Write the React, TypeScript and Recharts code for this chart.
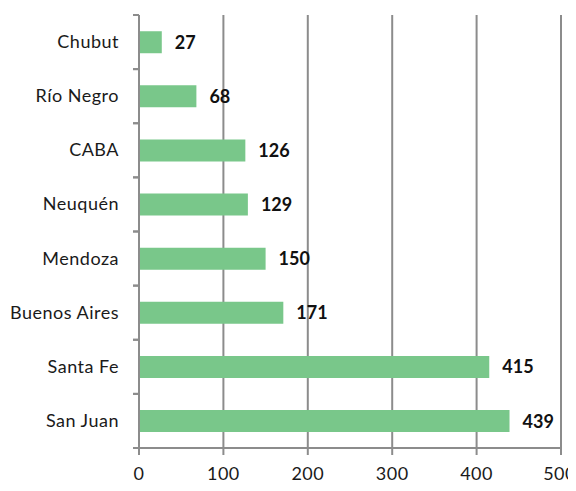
import React from 'react';
import { BarChart, Bar, XAxis, YAxis, CartesianGrid, LabelList } from 'recharts';

const provinces = ['Chubut', 'Río Negro', 'CABA', 'Neuquén', 'Mendoza', 'Buenos Aires', 'Santa Fe', 'San Juan'];
const values = [27, 68, 126, 129, 150, 171, 415, 439];
const xTicks = [0, 100, 200, 300, 400, 500];

const data = provinces.map((name, i) => ({ name, value: values[i] }));

const FONT = 'Lato, sans-serif';
const GRID = '#8c8c8c';
const PLOT_TOP = 15;
const PLOT_BOTTOM = 448;
const BAND = (PLOT_BOTTOM - PLOT_TOP) / provinces.length;

const CategoryTick = (props: any) => {
    const { x, y, payload } = props;
    return (
        <g>
            <line x1={x + 2} x2={x + 8} y1={y - BAND / 2} y2={y - BAND / 2} stroke={GRID} strokeWidth={2} />
            <line x1={x + 2} x2={x + 8} y1={y + BAND / 2} y2={y + BAND / 2} stroke={GRID} strokeWidth={2} />
            <text
                x={x - 12}
                y={y}
                dy={6}
                textAnchor="end"
                fontSize={18}
                letterSpacing={0.5}
                fill="#1a1a1a"
                fontFamily={FONT}
            >
                {payload.value}
            </text>
        </g>
    );
};

const App = () => {
    return (
        <div style={{ margin: -8, background: '#fff' }}>
            <BarChart
                width={576}
                height={491}
                data={data}
                layout="vertical"
                margin={{ top: PLOT_TOP, right: 15, bottom: 0, left: 0 }}
                barCategoryGap="30%"
            >
                <CartesianGrid horizontal={false} stroke={GRID} strokeWidth={2} strokeDasharray="0" />
                <XAxis
                    type="number"
                    domain={[0, 500]}
                    ticks={xTicks}
                    height={43}
                    axisLine={{ stroke: GRID, strokeWidth: 2 }}
                    tickLine={{ stroke: GRID, strokeWidth: 2 }}
                    tickSize={7}
                    tick={{ fontSize: 18, fill: '#1a1a1a', fontFamily: FONT, letterSpacing: 0.5 }}
                    tickMargin={12}
                />
                <YAxis
                    type="category"
                    dataKey="name"
                    width={139}
                    axisLine={{ stroke: GRID, strokeWidth: 2 }}
                    tickLine={false}
                    tick={<CategoryTick />}
                    interval={0}
                />
                <Bar dataKey="value" fill="#79c78a" isAnimationActive={false}>
                    <LabelList
                        dataKey="value"
                        position="right"
                        offset={13}
                        style={{ fontSize: 18, fontWeight: 'bold', fill: '#111', fontFamily: FONT }}
                    />
                </Bar>
            </BarChart>
        </div>
    );
};

export default App;
